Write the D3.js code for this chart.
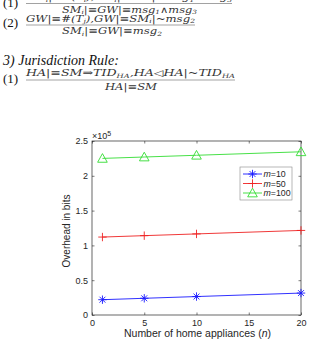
<!DOCTYPE html>
<html>
<head>
<meta charset="utf-8">
<script src="https://cdn.jsdelivr.net/npm/d3@7"></script>
<style>
  body { margin: 0; background: #fff; }
  svg { display: block; }
</style>
</head>
<body>
<script>
// data (overhead in units of 10^5 bits)
var appliances = [1, 5, 10, 20];
var m10 = [0.22, 0.24, 0.265, 0.315];
var m50 = [1.12, 1.14, 1.165, 1.215];
var m100 = [2.25, 2.27, 2.295, 2.345];
var seriesNames = ["10", "50", "100"];
var xTicks = [0, 5, 10, 15, 20];
var yTicks = [0, 0.5, 1, 1.5, 2, 2.5];

var W = 310, H = 340;
var svg = d3.select("body").append("svg")
    .attr("width", W)
    .attr("height", H);

// ---- the text of the page above the chart ----
var serif = "'DejaVu Serif', 'Liberation Serif', serif";
var txt = svg.append("g").attr("font-family", serif).attr("fill", "#333");

// helper: writes parts [[text, sub?, back?], ...] as one text line
function mathLine(x, y, parts, size, len) {
  var t = txt.append("text").attr("x", x).attr("y", y)
      .attr("font-size", size).attr("font-style", "italic");
  parts.forEach(function(p) {
    var s = t.append("tspan").text(p[0]);
    if (p[1]) s.attr("font-size", size * 0.65).attr("dy", 1.5);
    if (p[2]) s.attr("dy", -1.5);
  });
  if (len) t.attr("textLength", len).attr("lengthAdjust", "spacingAndGlyphs");
  return t;
}
function bar(x1, x2, yy) {
  txt.append("line").attr("x1", x1).attr("x2", x2).attr("y1", yy).attr("y2", yy)
      .attr("stroke", "#444").attr("stroke-width", 0.5);
}
function label(x, y, s) {
  svg.append("text").attr("x", x).attr("y", y).attr("font-size", 13)
      .attr("font-family", "'Liberation Serif', serif").attr("fill", "#111").text(s);
}

// (1) first rule, top half cut off by the page edge
label(3, 7, "(1)");
mathLine(26, 0, [["SM"], ["i", 1], ["|≡#(T", 0, 1], ["i", 1], ["),SM", 0, 1], ["i", 1], ["|≡GW|~msg", 0, 1], ["1", 1], ["∧msg", 0, 1], ["3", 1]], 9, 206);
bar(26, 232, 3.5);
mathLine(62, 12.5, [["SM"], ["i", 1], ["|≡GW|≡msg", 0, 1], ["1", 1], ["∧msg", 0, 1], ["3", 1]], 9, 135);

// (2)
label(3, 27, "(2)");
mathLine(26, 21.5, [["GW|≡#(T"], ["j", 1], ["),GW|≡SM", 0, 1], ["i", 1], ["|~msg", 0, 1], ["2", 1]], 9, 169);
bar(26, 195, 25);
mathLine(62, 34, [["SM"], ["i", 1], ["|≡GW|≡msg", 0, 1], ["2", 1]], 9, 100);

// 3) Jurisdiction Rule
svg.append("text").attr("x", 3).attr("y", 65).attr("font-size", 14)
    .attr("font-family", "'Liberation Serif', serif").attr("fill", "#111")
    .attr("font-style", "italic").text("3) Jurisdiction Rule:");

label(3, 83, "(1)");
mathLine(26, 76, [["HA|≡SM⇒TID"], ["HA", 1], [",HA◁HA|~TID", 0, 1], ["HA", 1]], 9, 209);
bar(26, 235, 80);
mathLine(105, 89.5, [["HA|≡SM"]], 9, 52);

// ---- the chart ----
var pLeft = 92, pRight = 301, pTop = 141, pBottom = 315;
var axisCol = "#262626";
var sans = "'Liberation Sans', Arial, sans-serif";

var x = d3.scaleLinear().domain([0, 20]).range([pLeft, pRight]);
var y = d3.scaleLinear().domain([0, 2.5]).range([pBottom, pTop]);

var chart = svg.append("g").attr("font-family", sans);

function styleAxis(g) {
  g.select(".domain").remove();
  g.selectAll("line").attr("stroke", axisCol).attr("stroke-width", 0.6);
  g.selectAll("text").attr("fill", axisCol).attr("font-size", 9).attr("font-family", sans);
}

chart.append("g").attr("transform", "translate(0," + pBottom + ")")
    .call(d3.axisBottom(x).tickValues(xTicks).tickSizeInner(-2.5).tickSizeOuter(0).tickPadding(5))
    .call(styleAxis);
chart.append("g").attr("transform", "translate(0," + pTop + ")")
    .call(d3.axisTop(x).tickValues(xTicks).tickSizeInner(-2.5).tickSizeOuter(0).tickFormat(""))
    .call(styleAxis);
chart.append("g").attr("transform", "translate(" + pLeft + ",0)")
    .call(d3.axisLeft(y).tickValues(yTicks).tickSizeInner(-2.5).tickSizeOuter(0).tickPadding(4)
      .tickFormat(function(d) { return d3.format("")(d); }))
    .call(styleAxis);
chart.append("g").attr("transform", "translate(" + pRight + ",0)")
    .call(d3.axisRight(y).tickValues(yTicks).tickSizeInner(-2.5).tickSizeOuter(0).tickFormat(""))
    .call(styleAxis);

// box
chart.append("rect")
    .attr("x", pLeft).attr("y", pTop)
    .attr("width", pRight - pLeft).attr("height", pBottom - pTop)
    .attr("fill", "none").attr("stroke", axisCol).attr("stroke-width", 0.7);

// x10^5 exponent label
var ex = chart.append("text").attr("x", pLeft).attr("y", pTop - 2)
    .attr("font-size", 9).attr("fill", axisCol);
ex.append("tspan").text("×10");
ex.append("tspan").attr("font-size", 7).attr("dy", -3.5).text("5");

// axis labels
var xl = chart.append("text").attr("x", (pLeft + pRight) / 2 + 1).attr("y", 337)
    .attr("text-anchor", "middle").attr("font-size", 10.5).attr("fill", axisCol);
xl.append("tspan").text("Number of home appliances (");
xl.append("tspan").attr("font-style", "italic").text("n");
xl.append("tspan").text(")");

chart.append("text")
    .attr("transform", "translate(69.5," + ((pTop + pBottom) / 2 + 3) + ") rotate(-90)")
    .attr("text-anchor", "middle").attr("font-size", 10).attr("fill", axisCol)
    .text("Overhead in bits");

// markers
function drawMarker(g, kind, color) {
  if (kind === "star") {
    var r = 4.2;
    g.append("path").attr("d",
      "M" + (-r) + ",0H" + r + "M0," + (-r) + "V" + r +
      "M" + (-r * 0.7) + "," + (-r * 0.7) + "L" + (r * 0.7) + "," + (r * 0.7) +
      "M" + (-r * 0.7) + "," + (r * 0.7) + "L" + (r * 0.7) + "," + (-r * 0.7))
      .attr("stroke", color).attr("stroke-width", 0.9).attr("fill", "none");
  } else if (kind === "plus") {
    var p = 4.2;
    g.append("path").attr("d", "M" + (-p) + ",0H" + p + "M0," + (-p) + "V" + p)
      .attr("stroke", color).attr("stroke-width", 0.9).attr("fill", "none");
  } else {
    var s = 4.8;
    g.append("path").attr("d", "M0," + (-s) + "L" + s + "," + (s * 0.8) + "L" + (-s) + "," + (s * 0.8) + "Z")
      .attr("stroke", color).attr("stroke-width", 0.9).attr("fill", "none");
  }
}

var series = [
  { name: seriesNames[0], values: m10, color: "#1a1aff", marker: "star" },
  { name: seriesNames[1], values: m50, color: "#ee2222", marker: "plus" },
  { name: seriesNames[2], values: m100, color: "#33dd33", marker: "tri" }
];

var line = d3.line()
    .x(function(d, i) { return x(appliances[i]); })
    .y(function(d) { return y(d); });

series.forEach(function(s) {
  chart.append("path").datum(s.values)
      .attr("d", line)
      .attr("fill", "none").attr("stroke", s.color).attr("stroke-width", 0.9);
  s.values.forEach(function(v, i) {
    var g = chart.append("g").attr("transform", "translate(" + x(appliances[i]) + "," + y(v) + ")");
    drawMarker(g, s.marker, s.color);
  });
});

// legend
var lg = chart.append("g").attr("transform", "translate(240,167)");
lg.append("rect").attr("width", 52).attr("height", 33)
    .attr("fill", "#fff").attr("stroke", "#888").attr("stroke-width", 0.6);
series.forEach(function(s, i) {
  var yy = 7 + i * 9.5;
  lg.append("line").attr("x1", 3).attr("x2", 22).attr("y1", yy).attr("y2", yy)
      .attr("stroke", s.color).attr("stroke-width", 0.9);
  drawMarker(lg.append("g").attr("transform", "translate(12.5," + yy + ")"), s.marker, s.color);
  var t = lg.append("text").attr("x", 23.5).attr("y", yy + 3.2)
      .attr("font-size", 8.8).attr("fill", axisCol);
  t.append("tspan").attr("font-style", "italic").text("m");
  t.append("tspan").text("=" + s.name);
});
</script>
</body>
</html>
